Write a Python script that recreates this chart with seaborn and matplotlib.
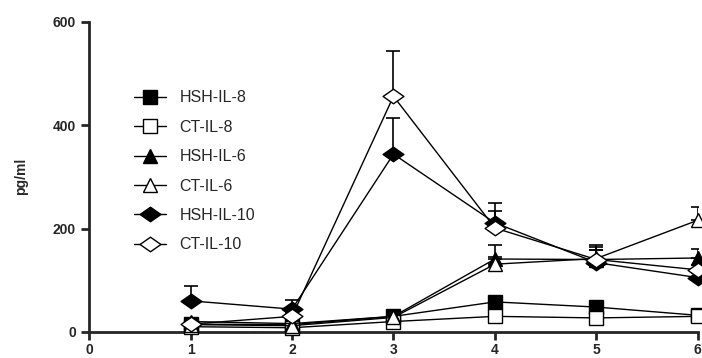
import numpy as np
import pandas as pd
import seaborn as sns
import matplotlib.pyplot as plt
from matplotlib.path import Path

# Time points and cytokine levels (pg/ml)
days = [1, 2, 3, 4, 5, 6]

hsh_il8 = [15, 14, 30, 58, 48, 32]
ct_il8 = [10, 8, 20, 30, 27, 30]
hsh_il6 = [20, 16, 30, 141, 140, 143]
ct_il6 = [14, 12, 28, 131, 142, 216]
hsh_il10 = [60, 44, 344, 211, 134, 105]
ct_il10 = [15, 30, 456, 201, 140, 120]

# upper error bars (SEM)
hsh_il8_err = [5, 4, 6, 8, 8, 4]
ct_il8_err = [3, 3, 4, 5, 5, 4]
hsh_il6_err = [6, 4, 5, 27, 18, 17]
ct_il6_err = [4, 4, 5, 14, 23, 26]
hsh_il10_err = [29, 18, 69, 38, 25, 8]
ct_il10_err = [5, 6, 87, 33, 28, 10]

labels = ['HSH-IL-8', 'CT-IL-8', 'HSH-IL-6', 'CT-IL-6', 'HSH-IL-10', 'CT-IL-10']
series = [hsh_il8, ct_il8, hsh_il6, ct_il6, hsh_il10, ct_il10]
errors = [hsh_il8_err, ct_il8_err, hsh_il6_err, ct_il6_err, hsh_il10_err, ct_il10_err]

# flattened diamond like the original
wide_diamond = Path([(-1, 0), (0, 0.7), (1, 0), (0, -0.7), (-1, 0)],
                    [Path.MOVETO, Path.LINETO, Path.LINETO, Path.LINETO, Path.CLOSEPOLY])
markers = ['s', 's', '^', '^', wide_diamond, wide_diamond]
sizes = [10.5, 10.5, 10.5, 10.5, 15, 15]
fills = ['black', 'white', 'black', 'white', 'black', 'white']

sns.set_style('ticks')
plt.rcParams['font.family'] = ['Liberation Sans', 'DejaVu Sans']

fig = plt.figure(figsize=(7.02, 3.58), dpi=100)
ax = fig.add_axes([0.127, 0.073, 0.867, 0.866])

for lab, vals, err, m, ms, fc in zip(labels, series, errors, markers, sizes, fills):
    df = pd.DataFrame({'day': days, 'val': vals})
    ax.errorbar(days, vals, yerr=[np.zeros(len(err)), err], fmt='none',
                ecolor='black', elinewidth=1.2, capsize=5, capthick=1.2, zorder=2)
    sns.lineplot(data=df, x='day', y='val', ax=ax, color='black', linewidth=1,
                 marker=m, markersize=ms, markerfacecolor=fc,
                 markeredgecolor='black', markeredgewidth=1, label=lab,
                 clip_on=False, zorder=3)

ax.set_xlim(0, 6)
ax.set_ylim(0, 600)
ax.set_xticks([0, 1, 2, 3, 4, 5, 6])
ax.set_yticks([0, 200, 400, 600])
ax.set_xlabel('')
ax.set_ylabel('pg/ml', fontsize=10, fontweight='bold', labelpad=18)
for t in ax.get_xticklabels() + ax.get_yticklabels():
    t.set_fontweight('bold')
ax.tick_params(axis='both', labelsize=10, width=2, length=6)
ax.tick_params(axis='x', pad=2)
for side in ['left', 'bottom']:
    ax.spines[side].set_linewidth(2)
sns.despine(ax=ax)

ax.legend(loc='upper left', bbox_to_anchor=(0.05, 0.825), frameon=False,
          fontsize=11.5, handlelength=2.0, labelspacing=0.9, handletextpad=0.85)

fig.savefig('out.png', dpi=100)
